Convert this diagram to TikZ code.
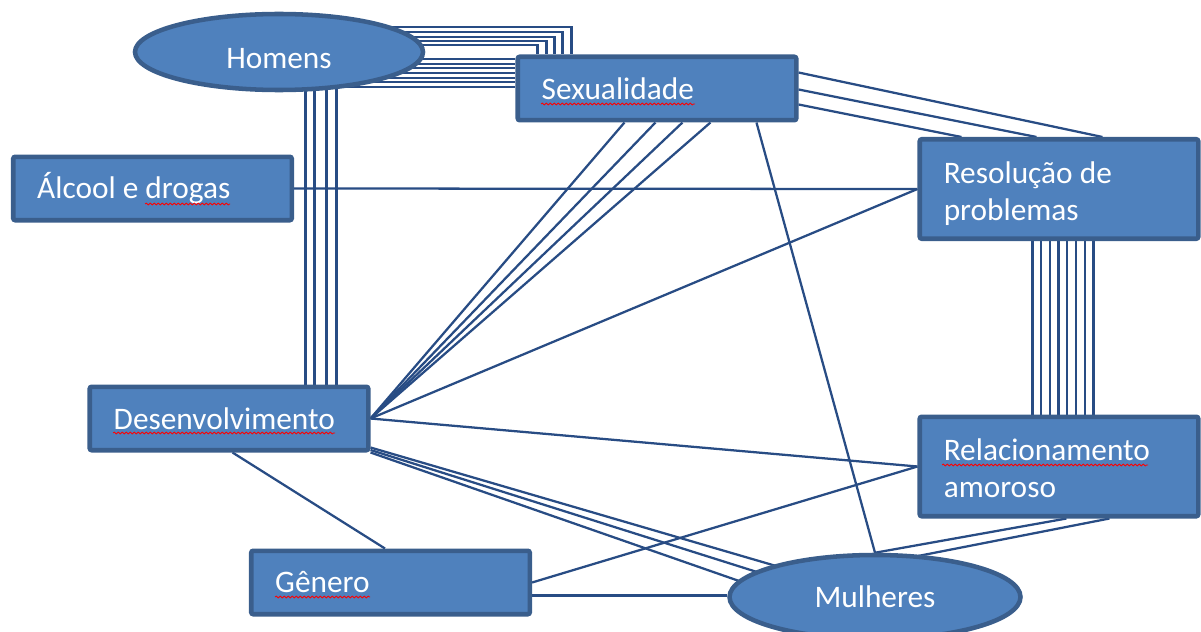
\documentclass[tikz,border=0pt]{standalone}
\usepackage{fontspec}
\setmainfont{Carlito}
\usetikzlibrary{shapes.geometric,calc,backgrounds,decorations.pathmorphing}
\definecolor{boxfill}{HTML}{4F81BD}
\definecolor{boxline}{HTML}{3A5E8C}
\definecolor{conn}{HTML}{284C84}
\begin{document}
\begin{tikzpicture}[x=0.75pt,y=-0.75pt,
  lbl/.style={text=white, font=\fontsize{23.5}{27.75}\selectfont},
  box/.style={lbl, draw=boxline, fill=boxfill, line width=3.4pt, rounded corners=1.5pt,
    text width=172.9pt, inner xsep=18pt, inner ysep=0pt, align=flush left, minimum height=47.6pt},
  tallbox/.style={box, minimum height=74.6pt, text depth=25pt},
  oval/.style={lbl, ellipse, draw=boxline, fill=boxfill, line width=3.4pt, inner sep=0pt},
  link/.style={draw=conn, line width=1.7pt},
  squiggle/.style={draw=red, line width=0.6pt, decorate,
    decoration={snake, amplitude=0.7pt, segment length=3pt}}]
\useasboundingbox (0,0) rectangle (1201,631);

% nodes
\node[oval, minimum width=216pt, minimum height=57pt, text height=25pt, text depth=0pt] (Homens) at (279,52) {Homens};
\node[box] (Sex) at (657,88.5) {Sexualidade};
\node[box] (Alc) at (152.5,188.5) {Álcool e drogas};
\node[tallbox] (Res) at (1059,189) {Resolução de\\problemas};
\node[box] (Des) at (229,418.5) {Desenvolvimento};
\node[tallbox] (Rel) at (1059,466.5) {Relacionamento\\amoroso};
\node[box] (Gen) at (390.5,582.5) {Gênero};
\node[oval, minimum width=218.25pt, minimum height=63pt] (Mul) at (875,597) {Mulheres};

% spelling squiggles
\draw[squiggle] (541,104) -- (695,104);
\draw[squiggle] (145,204) -- (230,204);
\draw[squiggle] (113,433) -- (335,433);
\draw[squiggle] (942,465) -- (1148,465);
\draw[squiggle] (275,597) -- (370,597);

\begin{scope}[on background layer]
  % Homens -> Sexualidade (elbows into the top)
  \foreach \d/\xo in {-25/56,-20/47,-15/39,-11/31,-7/22}
    \draw[link] ($(Homens.center)+(0,\d)$) -| ($(Sex.north west)+(\xo,0)$);
  % Homens -> Sexualidade (straight into the left side)
  \foreach \d in {7,11.7,16.3,21,25.7,30.3,35} {
    \coordinate (hh) at ($(Homens.center)+(0,\d)$);
    \draw[link] (hh) -- (hh -| Sex.west);
  }
  % Homens -> Desenvolvimento
  \foreach \xo in {218,227,239,249} {
    \coordinate (vv) at ($(Des.north west)+(\xo,0)$);
    \draw[link] (vv) -- (vv |- Homens.center);
  }
  % Resolucao -> Relacionamento
  \foreach \i in {0,...,7}
    \draw[link] ($(Res.south west)+(115+8.7*\i,0)$) -- ($(Rel.north west)+(115+8.7*\i,0)$);
  % Sexualidade -> Resolucao
  \foreach \dy/\dx in {18/185,35/119,50/44}
    \draw[link] ($(Sex.north east)+(0,\dy)$) -- ($(Res.north west)+(\dx,0)$);
  % Desenvolvimento -> Sexualidade
  \foreach \dx in {109,140,167,195}
    \draw[link] (Des.east) -- ($(Sex.south west)+(\dx,0)$);
  % Desenvolvimento -> Resolucao, Relacionamento
  \draw[link] (Des.east) -- (Res.west);
  \draw[link] (Des.east) -- (Rel.west);
  % Desenvolvimento -> Mulheres
  \foreach \s/\ex/\ey in {-5/-92/-29,-2.5/-118/-25,0/-133/-15}
    \draw[link] ($(Des.south east)+(0,\s)$) -- ($(Mul.center)+(\ex,\ey)$);
  % Desenvolvimento -> Genero
  \draw[link] ($(Des.south west)+(145,0)$) -- ($(Gen.north west)+(136,0)$);
  % Alcool -> Resolucao
  \draw[link] (Alc.east) -- (Res.west);
  % Sexualidade -> Mulheres
  \draw[link] ($(Sex.south west)+(241,0)$) -- (Mul.north);
  % Relacionamento -> Mulheres
  \draw[link] ($(Rel.south west)+(149,0)$) -- (Mul.north);
  \draw[link] ($(Rel.south west)+(192,0)$) -- ($(Mul.center)+(43,-41)$);
  % Genero -> Relacionamento, Mulheres
  \draw[link] (Gen.east) -- (Rel.west);
  \coordinate (gg) at ($(Gen.east)+(0,13)$);
  \draw[link] (gg) -- (gg -| Mul.west);
\end{scope}
\end{tikzpicture}
\end{document}
